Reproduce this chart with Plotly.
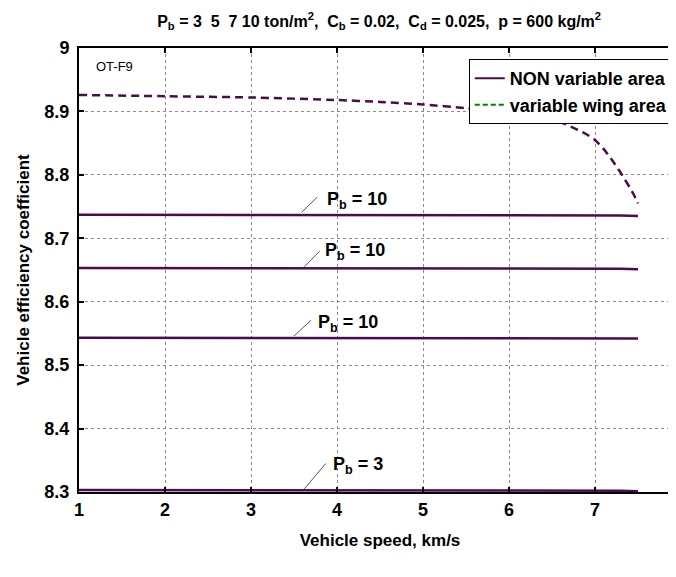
import plotly.graph_objects as go

# ---------------- data ----------------
speed_solid = [1.0, 2.0, 3.0, 4.0, 5.0, 6.0, 6.5, 7.0, 7.3, 7.5]
eff_pb10_a = [8.737, 8.737, 8.737, 8.737, 8.737, 8.737, 8.737, 8.736, 8.736, 8.735]
eff_pb10_b = [8.653, 8.653, 8.653, 8.653, 8.653, 8.653, 8.653, 8.652, 8.652, 8.651]
eff_pb10_c = [8.543, 8.543, 8.543, 8.543, 8.543, 8.543, 8.543, 8.543, 8.542, 8.542]
eff_pb3 = [8.303, 8.303, 8.303, 8.303, 8.303, 8.303, 8.303, 8.302, 8.302, 8.301]

speed_var = [1.0, 2.0, 3.0, 4.0, 4.5, 5.0, 5.5, 6.0, 6.2, 6.4, 6.6, 6.8, 6.9, 7.0,
             7.1, 7.2, 7.3, 7.4, 7.45, 7.5]
eff_var = [8.926, 8.924, 8.922, 8.918, 8.915, 8.911, 8.905, 8.897, 8.893, 8.889,
           8.883, 8.871, 8.864, 8.855, 8.841, 8.823, 8.803, 8.781, 8.769, 8.755]

x_ticks = [1, 2, 3, 4, 5, 6, 7, 8]
y_ticks = [8.3, 8.4, 8.5, 8.6, 8.7, 8.8, 8.9, 9.0]
y_tick_labels = ["8.3", "8.4", "8.5", "8.6", "8.7", "8.8", "8.9", "9"]

label_texts = ["<b>P<sub>b</sub> = 10</b>", "<b>P<sub>b</sub> = 10</b>",
               "<b>P<sub>b</sub> = 10</b>", "<b>P<sub>b</sub> = 3</b>"]

# ---------------- layout helpers (positions) ----------------
label_pos = [(3.86, 8.760), (3.84, 8.679), (3.75, 8.566), (3.93, 8.341)]
leader_pos = [((3.59, 8.741), (3.77, 8.765)),
              ((3.62, 8.655), (3.80, 8.680)),
              ((3.50, 8.546), (3.70, 8.571)),
              ((3.62, 8.305), (3.87, 8.345))]

PURPLE = "#4c0b4c"
FONT = "Liberation Sans, Arial, sans-serif"

fig = go.Figure()

for vals in [eff_pb10_a, eff_pb10_b, eff_pb10_c, eff_pb3]:
    fig.add_trace(go.Scatter(x=speed_solid, y=vals, mode="lines",
                             line=dict(color=PURPLE, width=2.5),
                             showlegend=False, hoverinfo="skip"))

fig.add_trace(go.Scatter(x=speed_var, y=eff_var, mode="lines",
                         line=dict(color=PURPLE, width=2.5, dash="8px,5px", shape="spline",
                                   smoothing=0.6),
                         showlegend=False, hoverinfo="skip"))

# legend entries (as in the original figure)
fig.add_trace(go.Scatter(x=[None], y=[None], mode="lines",
                         line=dict(color=PURPLE, width=2),
                         name="NON variable area"))
fig.add_trace(go.Scatter(x=[None], y=[None], mode="lines",
                         line=dict(color="#008000", width=2, dash="5px,3px"),
                         name="variable wing area"))

for txt, (lx, ly) in zip(label_texts, label_pos):
    fig.add_annotation(x=lx, y=ly, text=txt, showarrow=False, xanchor="left",
                       yanchor="middle", font=dict(family=FONT, size=18, color="black"))

for (p0, p1) in leader_pos:
    fig.add_shape(type="line", x0=p0[0], y0=p0[1], x1=p1[0], y1=p1[1],
                  xref="x", yref="y", line=dict(color="#555", width=1))

fig.add_annotation(x=1.41, y=8.971, text="OT-F9", showarrow=False,
                   font=dict(family=FONT, size=13, color="black"))

fig.update_layout(
    width=676, height=577,
    margin=dict(l=71, r=1, t=40, b=93),
    paper_bgcolor="white", plot_bgcolor="white",
    title=dict(text="<b>P<sub>b</sub> = 3  5  7 10 ton/m<sup>2</sup>,  C<sub>b</sub> = 0.02,  "
                    "C<sub>d</sub> = 0.025,  p = 600 kg/m<sup>2</sup></b>",
               x=0.549, xanchor="center", y=0.977, yanchor="middle",
               yref="container",
               font=dict(family=FONT, size=16, color="black")),
    legend=dict(x=0.988, y=0.975, xanchor="right", yanchor="top",
                bgcolor="white", bordercolor="black", borderwidth=1,
                font=dict(family=FONT, size=18, color="black", weight="bold"),
                tracegroupgap=0, itemwidth=30),
    showlegend=True,
)

fig.update_xaxes(range=[1, 8], tickvals=x_ticks, ticktext=[str(v) for v in x_ticks],
                 showline=True, linecolor="black", linewidth=2, mirror="ticks",
                 ticks="inside", ticklen=5, tickwidth=2, tickcolor="black",
                 showgrid=True, gridcolor="#8a8a8a", griddash="dot", gridwidth=1,
                 zeroline=False,
                 tickfont=dict(family=FONT, size=18, color="black", weight="bold"),
                 title=dict(text="<b>Vehicle speed, km/s</b>", standoff=16,
                            font=dict(family=FONT, size=17, color="black")))
fig.update_yaxes(range=[8.3, 9.0], tickvals=y_ticks, ticktext=y_tick_labels,
                 showline=True, linecolor="black", linewidth=2, mirror="ticks",
                 ticks="inside", ticklen=5, tickwidth=2, tickcolor="black",
                 showgrid=True, gridcolor="#8a8a8a", griddash="dot", gridwidth=1,
                 zeroline=False, ticklabelstandoff=4,
                 tickfont=dict(family=FONT, size=18, color="black", weight="bold"),
                 title=dict(text="<b>Vehicle efficiency coefficient</b>", standoff=10,
                            font=dict(family=FONT, size=17, color="black")))

fig.write_html("out.html")
